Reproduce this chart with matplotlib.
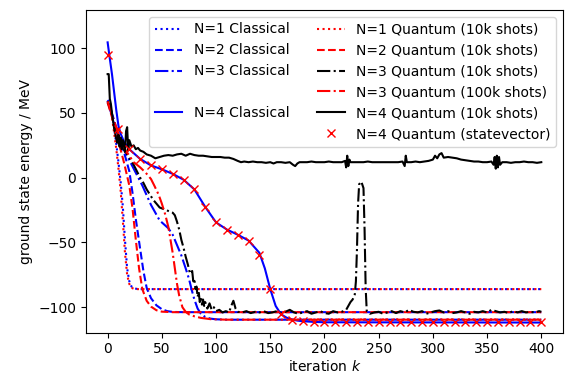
import matplotlib
matplotlib.use("Agg")
import matplotlib.pyplot as plt
from matplotlib.lines import Line2D

# ---- data ----

# N=1
N1_C_K = [0, 2, 5, 8, 10, 12, 14, 16, 18, 20, 22, 25, 30, 400]
N1_C_E = [60, 58, 45, 26, 12, -3, -22, -48, -70, -80, -84, -85.6, -86, -86]
N1_Q_K = [0, 2, 5, 8, 10, 12, 14, 16, 18, 20, 22, 25, 30, 400]
N1_Q_E = [58, 55, 41, 22, 7, -10, -33, -58, -75, -82, -85, -86, -86, -86]

# N=2
N2_C_K = [0, 5, 10, 15, 20, 23, 26, 30, 33, 36, 40, 45, 50, 55, 60, 70, 400]
N2_C_E = [59, 47, 33, 20, 5, -12, -32, -55, -72, -85, -93, -98.5, -101.5, -103, -103.6, -103.8, -103.8]
N2_Q_K = [0, 5, 10, 15, 20, 23, 26, 29, 32, 36, 40, 45, 50, 60, 400]
N2_Q_E = [58, 44, 28, 12, -6, -24, -48, -70, -86, -95, -99.5, -102.3, -103.4, -103.8, -103.8]

# N=3
N3_C_K = [0, 5, 10, 16, 24, 32, 40, 48, 56, 60, 64, 68, 72, 75, 78, 80, 83, 86, 90, 95, 100, 110, 400]
N3_C_E = [59, 45, 32, 20, 7, -6, -21, -33, -39, -44, -52, -60, -70, -78, -88, -94, -101, -105, -107.5, -108.8, -109.3, -109.6, -109.6]
N3_Q100K_K = [0, 5, 10, 16, 24, 30, 35, 40, 43, 47, 50, 53, 56, 58, 60, 62, 64, 66, 69, 72, 75, 80, 86, 95, 110, 400]
N3_Q100K_E = [59, 46, 34, 22, 12, 8, 4, -1, -6, -13, -20, -28, -38, -48, -58, -70, -82, -91, -100, -103.5, -105.5, -107, -108.2, -109.2, -109.6, -109.6]

N3_Q10K_K = [0, 3, 6, 9, 12, 15, 18, 21, 24, 27, 30, 33, 36, 39, 42, 45, 48, 51, 54, 57,
             60, 62, 64, 66, 68, 70, 72, 74, 76, 78, 79, 80, 81, 82, 83, 84, 85, 86, 87, 88,
             89, 90, 92, 94, 96, 98, 100, 103, 106, 109, 112, 114, 116, 118, 120, 124, 128, 132, 136, 140,
             144, 148, 152, 156, 160, 164, 168, 172, 176, 180, 184, 188, 192, 196, 200, 204, 208, 212, 216, 220,
             224, 226, 228, 229, 230, 231, 232, 234, 236, 237, 238, 239, 242, 246, 250, 254, 258, 262, 266, 270,
             274, 278, 282, 286, 290, 294, 298, 302, 306, 310, 314, 318, 322, 326, 330, 334, 338, 342, 346, 350,
             354, 358, 362, 366, 370, 374, 378, 382, 386, 390, 394, 398, 400]
N3_Q10K_E = [59, 52, 42, 35, 28, 22, 18, 14, 10, 5, 0, -4, -9, -13, -17, -20, -23, -24, -25, -26,
             -27, -29, -34, -40, -48, -54, -61, -67, -74, -72, -80, -78, -86, -84, -92, -88, -96, -92, -98, -94,
             -99, -96, -101, -97, -102, -100, -103, -102, -104, -103, -104, -99, -95, -101, -103.5, -104, -103, -104.5, -103.5, -104,
             -103, -104.5, -104, -103, -104.5, -103.5, -102, -104, -105, -104, -103, -105, -104, -103, -104.5, -105, -103, -104, -103.5, -102,
             -96, -94, -90, -80, -55, -20, -5, -3, -8, -40, -85, -103, -105, -104, -103.5, -105, -104, -103, -104.5, -103,
             -104, -102, -103.5, -104, -103, -105, -104, -103, -102.5, -104, -103, -104.5, -104, -103, -104, -105, -103.5, -104, -103, -104,
             -102, -103, -104, -103.5, -104.5, -103, -104, -103, -104, -103.5, -104, -103, -103.5]

# N=4
N4_C_K = [0, 2, 4, 6, 8, 10, 12, 15, 20, 30, 40, 50, 60, 70, 80, 90, 100, 110, 120, 130,
          140, 145, 150, 155, 160, 165, 170, 175, 180, 190, 200, 400]
N4_C_E = [104.5, 92, 80, 66, 52, 40, 34, 28, 22, 14.5, 9.5, 6.5, 3, -1.5, -9, -22.5, -34.5, -40, -44, -48.5,
          -58, -70, -86, -99, -105.5, -108, -109.5, -110.3, -110.8, -111.3, -111.6, -111.8]

N4_Q10K_K = [0, 1, 2, 3, 4, 5, 6, 7, 8, 9, 10, 11, 12, 13, 14, 15, 16, 17, 18, 19,
             20, 22, 24, 26, 28, 30, 33, 36, 40, 44, 48, 52, 56, 60, 64, 68, 72, 76, 80, 84,
             88, 92, 96, 100, 104, 108, 112, 116, 120, 123, 126, 130, 134, 138, 142, 146, 150, 153, 156, 160,
             164, 168, 171, 173, 175, 177, 180, 184, 188, 192, 196, 200, 204, 208, 212, 216, 219, 220, 221, 222,
             223, 224, 228, 232, 236, 240, 244, 248, 252, 256, 260, 264, 268, 272, 274, 275, 276, 280, 284, 288,
             292, 296, 300, 302, 304, 306, 308, 310, 314, 318, 322, 326, 330, 334, 338, 342, 346, 350, 354, 356,
             357, 358, 359, 360, 361, 362, 364, 368, 372, 376, 380, 384, 388, 392, 396, 400]
N4_Q10K_E = [80, 80, 61, 57, 50, 44, 38, 34, 30, 27, 33, 24, 31, 22, 29, 25, 20, 36, 39, 21,
             29, 24, 25, 22, 23, 21, 20, 18, 17, 15, 16, 17, 17.5, 17, 18, 18.5, 17, 18.5, 17.5, 17,
             17, 16.5, 16, 16, 16, 15.5, 15.5, 14.5, 13, 12, 12.5, 12, 12.5, 12, 12, 11.5, 12, 11, 12, 12,
             11.5, 12, 10, 9, 11, 12, 12, 12, 12.5, 12, 12, 12, 12.5, 12, 12, 12, 13, 8, 17, 9,
             14, 12, 12, 12, 12, 12.5, 12, 12, 12, 12, 12, 12, 12, 12.5, 9, 17, 12, 12, 12.5, 12,
             12.5, 13, 14, 17, 15, 18, 19, 15.5, 16, 15.5, 15, 14, 13.5, 13, 12.5, 12.5, 12, 12, 12.5, 10,
             16, 7, 17, 8, 16, 10, 12, 12, 11.5, 12, 12, 12.5, 12, 12, 11.5, 12]

SV_K = list(range(0, 401, 10))
SV_E = [95, 37.5, 22, 14.5, 9.5, 6.5, 3, -1.5, -9, -22.5, -34.5, -40, -44, -48.5, -60, -86, -105.5, -109.5, -110.8, -111.3,
        -111.5, -111.5, -111.5, -111.5, -111.5, -111.5, -111.5, -111.5, -111.5, -111.5, -111.5, -111.5, -111.5, -111.5, -111.5, -111.5,
        -111.5, -111.5, -111.5, -111.5, -111.5]

# ---- figure ----
fig, ax = plt.subplots(figsize=(5.73, 3.77), dpi=100)
fig.subplots_adjust(left=0.150, right=0.9825, top=0.9735, bottom=0.118)

h_n1c, = ax.plot(N1_C_K, N1_C_E, color='blue', linestyle=':', label='N=1 Classical')
h_n2c, = ax.plot(N2_C_K, N2_C_E, color='blue', linestyle='--', label='N=2 Classical')
h_n3c, = ax.plot(N3_C_K, N3_C_E, color='blue', linestyle='-.', label='N=3 Classical')
h_n4c, = ax.plot(N4_C_K, N4_C_E, color='blue', linestyle='-', label='N=4 Classical')

h_n1q, = ax.plot(N1_Q_K, N1_Q_E, color='red', linestyle=':', label='N=1 Quantum (10k shots)')
h_n2q, = ax.plot(N2_Q_K, N2_Q_E, color='red', linestyle='--', label='N=2 Quantum (10k shots)')
h_n3q, = ax.plot(N3_Q10K_K, N3_Q10K_E, color='black', linestyle='-.', label='N=3 Quantum (10k shots)')
h_n3q1, = ax.plot(N3_Q100K_K, N3_Q100K_E, color='red', linestyle='-.', label='N=3 Quantum (100k shots)')
h_n4q, = ax.plot(N4_Q10K_K, N4_Q10K_E, color='black', linestyle='-', label='N=4 Quantum (10k shots)')
h_sv, = ax.plot(SV_K, SV_E, color='red', linestyle='none', marker='x', label='N=4 Quantum (statevector)')

blank = Line2D([], [], linestyle='none')
handles = [h_n1c, h_n2c, h_n3c, blank, h_n4c, blank,
           h_n1q, h_n2q, h_n3q, h_n3q1, h_n4q, h_sv]
labels = ['N=1 Classical', 'N=2 Classical', 'N=3 Classical', '', 'N=4 Classical', '',
          'N=1 Quantum (10k shots)', 'N=2 Quantum (10k shots)', 'N=3 Quantum (10k shots)',
          'N=3 Quantum (100k shots)', 'N=4 Quantum (10k shots)', 'N=4 Quantum (statevector)']
ax.legend(handles, labels, ncol=2, loc='upper right')

ax.set_xlim(-20, 420)
ax.set_ylim(-119.5, 129.5)
ax.set_xticks(range(0, 401, 50))
ax.set_yticks([-100, -50, 0, 50, 100])
ax.set_xlabel('iteration $k$', labelpad=2)
ax.set_ylabel('ground state energy / MeV')

fig.savefig('out.png', dpi=100)
